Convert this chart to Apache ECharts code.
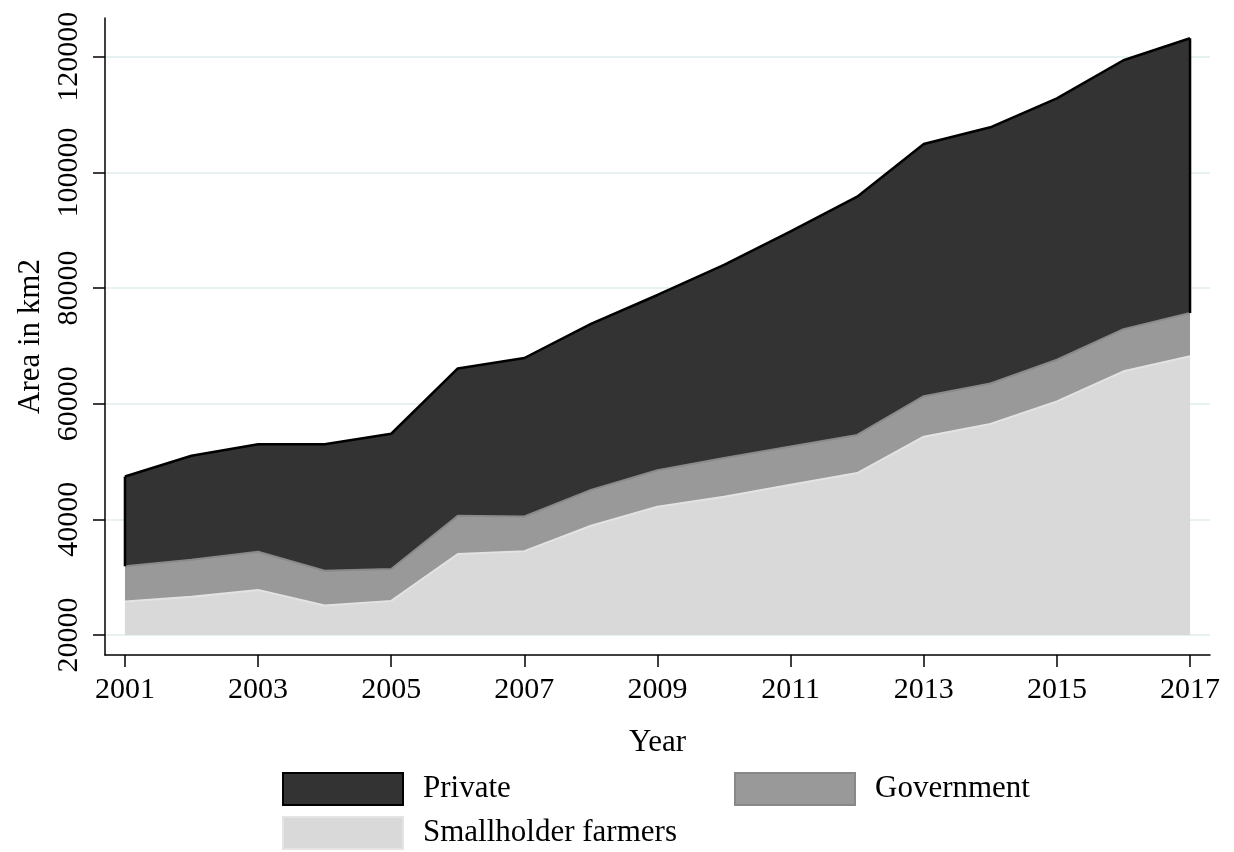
<!DOCTYPE html>
<html>
<head>
<meta charset="utf-8">
<script src="https://cdn.jsdelivr.net/npm/echarts@6/dist/echarts.min.js"></script>
<style>html,body{margin:0;padding:0;background:#fff}#c{width:1234px;height:852px}</style>
</head>
<body>
<div id="c"></div>
<script>
// Data (cumulative stacked totals, km2)
const years = [2001,2002,2003,2004,2005,2006,2007,2008,2009,2010,2011,2012,2013,2014,2015,2016,2017];
const privateTotal = [47400,51000,53000,53000,54800,66100,67900,73800,78800,84000,89800,95800,104900,107800,112800,119400,123200];
const governmentTotal = [31900,33000,34400,31100,31400,40600,40500,45100,48500,50600,52600,54600,61300,63500,67600,72900,75700];
const smallholderTotal = [25800,26600,27800,25100,25900,34000,34500,38900,42200,43900,46000,48000,54300,56500,60400,65600,68200];
const yTicks = [20000,40000,60000,80000,100000,120000];
const xTicks = [2001,2003,2005,2007,2009,2011,2013,2015,2017];
const seriesNames = ['Private','Government','Smallholder farmers'];

const pair = arr => years.map((y,i)=>[y,arr[i]]);
const font = 'Liberation Serif';
const chart = echarts.init(document.getElementById('c'));
const n = years.length - 1;

const legendText = {fontFamily: font, fontSize: 31, color: '#000', padding: [0,0,0,15]};
const mkLegend = (left, top, item) => ({
  left: left, top: top, padding: 0, orient: 'horizontal', icon: 'rect',
  itemWidth: 120, itemHeight: 32, textStyle: legendText, data: [item]
});

chart.setOption({
  animation: false,
  backgroundColor: '#fff',
  textStyle: {fontFamily: font, color: '#000'},
  grid: {left: 105, right: 24, top: 18, bottom: 197, containLabel: false, outerBoundsMode: 'none'},
  xAxis: {
    type: 'value', min: 2000.7, max: 2017.3,
    name: 'Year', nameLocation: 'middle', nameGap: 72,
    nameTextStyle: {fontFamily: font, fontSize: 31, color: '#000'},
    axisLine: {onZero: false, lineStyle: {color: '#000', width: 1.5}},
    axisTick: {show: true, length: 12, lineStyle: {color: '#000', width: 1.5}, customValues: xTicks},
    axisLabel: {fontFamily: font, fontSize: 30, color: '#000', margin: 20, customValues: xTicks, formatter: v => String(v)},
    splitLine: {show: false}
  },
  yAxis: {
    type: 'value', min: 16540, max: 126700,
    name: 'Area in km2', nameLocation: 'middle', nameGap: 59, nameRotate: 90,
    nameTextStyle: {fontFamily: font, fontSize: 31, color: '#000'},
    axisLine: {show: true, onZero: false, lineStyle: {color: '#000', width: 1.5}},
    axisTick: {show: true, length: 12, lineStyle: {color: '#000', width: 1.5}, customValues: yTicks},
    axisLabel: {fontFamily: font, fontSize: 30, color: '#000', rotate: 90, margin: 21, customValues: yTicks, formatter: v => String(v)},
    splitLine: {show: true, lineStyle: {color: '#e8f1f2', width: 2}}
  },
  legend: [
    mkLegend(282, 772, {name: seriesNames[0], itemStyle: {color: '#333333', borderColor: '#000', borderWidth: 2}}),
    mkLegend(734, 772, {name: seriesNames[1], itemStyle: {color: '#999999', borderColor: '#888888', borderWidth: 2}}),
    mkLegend(282, 816, {name: seriesNames[2], itemStyle: {color: '#d9d9d9', borderColor: '#e4e4e4', borderWidth: 2}})
  ],
  series: [
    {
      name: seriesNames[0], type: 'line', data: pair(privateTotal), symbol: 'none', z: 2,
      color: '#333333',
      lineStyle: {color: '#000', width: 2.5},
      areaStyle: {color: '#333333', opacity: 1, origin: 20000}
    },
    {
      name: seriesNames[1], type: 'line', data: pair(governmentTotal), symbol: 'none', z: 3,
      color: '#999999',
      lineStyle: {color: '#8a8a8a', width: 2},
      areaStyle: {color: '#999999', opacity: 1, origin: 20000}
    },
    {
      name: seriesNames[2], type: 'line', data: pair(smallholderTotal), symbol: 'none', z: 4,
      color: '#d9d9d9',
      lineStyle: {color: '#e3e3e3', width: 2},
      areaStyle: {color: '#d9d9d9', opacity: 1, origin: 20000}
    },
    {
      name: 'edgeL', type: 'line', symbol: 'none', silent: true, z: 3,
      data: [[years[0], privateTotal[0]], [years[0], governmentTotal[0]]],
      lineStyle: {color: '#000', width: 2.5}
    },
    {
      name: 'edgeR', type: 'line', symbol: 'none', silent: true, z: 3,
      data: [[years[n], privateTotal[n]], [years[n], governmentTotal[n]]],
      lineStyle: {color: '#000', width: 2.5}
    }
  ]
});
</script>
</body>
</html>
